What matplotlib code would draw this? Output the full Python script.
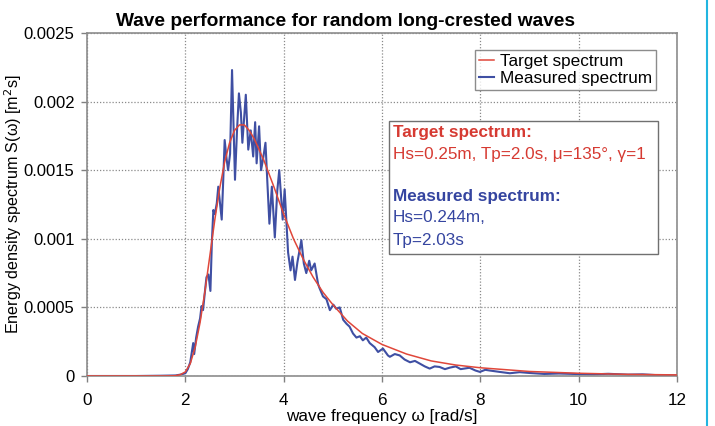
import numpy as np
import matplotlib.pyplot as plt
from matplotlib.lines import Line2D

plt.rcParams['font.family'] = ['Liberation Sans', 'DejaVu Sans']

# target spectrum (smooth), omega in rad/s, S in m^2 s
w_target = [0, 1.0, 1.6, 1.8, 1.9, 2.0, 2.1, 2.2, 2.3, 2.4, 2.5, 2.6, 2.7, 2.8,
            2.9, 3.0, 3.1, 3.2, 3.3, 3.4, 3.5, 3.6, 3.8, 4.0, 4.2, 4.4, 4.6,
            4.8, 5.0, 5.3, 5.6, 6.0, 6.5, 7.0, 7.5, 8.0, 9.0, 10.0, 11.0, 12.0]
s_target = [0, 0, 0, 0.000002, 0.00001, 0.00003, 0.00009, 0.00021, 0.00039,
            0.00062, 0.00088, 0.00114, 0.00137, 0.00156, 0.0017, 0.00179,
            0.00183, 0.00183, 0.00179, 0.00173, 0.00165, 0.00157, 0.00138,
            0.00118, 0.001, 0.00085, 0.00072, 0.00061, 0.00052, 0.0004,
            0.00031, 0.00023, 0.00016, 0.00011, 0.00008, 0.00006, 0.000033,
            0.00002, 0.000012, 0.000008]

# measured spectrum (noisy)
w_meas = [0, 1.0, 1.5, 1.8, 1.9, 2.0, 2.05, 2.1, 2.16, 2.18, 2.22, 2.26, 2.3,
          2.33, 2.36, 2.4, 2.43, 2.47, 2.51, 2.54, 2.57, 2.6, 2.64, 2.67,
          2.74, 2.77, 2.8, 2.84, 2.87, 2.91, 2.95, 3.01, 3.05, 3.09, 3.13,
          3.16, 3.2, 3.23, 3.28, 3.33, 3.38, 3.42, 3.45, 3.5, 3.54, 3.58,
          3.63, 3.67, 3.71, 3.76, 3.82, 3.87, 3.91, 3.98, 4.02, 4.09, 4.14,
          4.18, 4.23, 4.28, 4.36, 4.41, 4.46, 4.52, 4.56, 4.63, 4.7, 4.73,
          4.8, 4.87, 4.94, 5.01, 5.07, 5.14, 5.21, 5.28, 5.34, 5.41, 5.48,
          5.55, 5.61, 5.68, 5.75, 5.85, 5.92, 6.02, 6.12, 6.16, 6.26, 6.36,
          6.46, 6.57, 6.67, 6.77, 6.87, 6.97, 7.07, 7.17, 7.28, 7.38, 7.5,
          7.6, 7.78, 7.9, 7.99, 8.1, 8.19, 8.39, 8.6, 8.8, 9.0, 9.3, 9.6,
          10.0, 10.3, 10.6, 11.0, 11.3, 11.6, 12.0]
s_meas = [0, 0, 0.000002, 0.000004, 0.00001, 0.00002, 0.00005, 0.0001,
          0.00024, 0.00016, 0.00028, 0.00036, 0.00042, 0.00051, 0.00048,
          0.00062, 0.00072, 0.00074, 0.00062, 0.00098, 0.00121, 0.00118,
          0.00126, 0.00138, 0.00114, 0.00142, 0.00172, 0.00158, 0.0015,
          0.00162, 0.00223, 0.00143, 0.00178, 0.00206, 0.00192, 0.0017,
          0.0019, 0.00205, 0.00165, 0.00179, 0.0016, 0.00185, 0.00155,
          0.00182, 0.0015, 0.00158, 0.0017, 0.0014, 0.00111, 0.00138,
          0.00101, 0.00135, 0.0015, 0.00114, 0.00136, 0.0009, 0.00077,
          0.00087, 0.0007, 0.00083, 0.00099, 0.00082, 0.00075, 0.00084,
          0.00077, 0.00082, 0.00067, 0.00064, 0.00058, 0.00056, 0.00048,
          0.00052, 0.00049, 0.0005, 0.00041, 0.00038, 0.00036, 0.00031,
          0.00028, 0.00029, 0.00026, 0.00028, 0.00024, 0.00021, 0.000175,
          0.0002, 0.00015, 0.00014, 0.00016, 0.00015, 0.00012, 0.0001,
          0.00011, 0.00009, 0.00007, 0.000054, 0.00007, 0.000066, 0.00005,
          0.000061, 0.00007, 0.00005, 0.00006, 0.00004, 0.00003, 0.000045,
          0.00004, 0.00003, 0.00002, 0.000028, 0.000022, 0.000015, 0.000018,
          0.000014, 0.000012, 0.000016, 0.00001, 0.000012, 0.000006, 0.000004]

x_ticks = [0, 2, 4, 6, 8, 10, 12]
y_ticks = [0, 0.0005, 0.001, 0.0015, 0.002, 0.0025]
y_tick_labels = ['0', '0.0005', '0.001', '0.0015', '0.002', '0.0025']

red = '#e0473a'
blue = '#3f4fa3'
fs = 12.3

fig = plt.figure(figsize=(7.15, 4.26), dpi=100)
ax = fig.add_axes([87 / 715, 1 - 376 / 426, 590 / 715, 343 / 426])

ax.plot(w_target, s_target, color=red, lw=1.1, label='Target spectrum', zorder=3)
ax.plot(w_meas, s_meas, color=blue, lw=1.5, label='Measured spectrum', zorder=2)

ax.set_xlim(0, 12)
ax.set_ylim(0, 0.0025)
ax.set_xticks(x_ticks)
ax.set_yticks(y_ticks)
ax.set_yticklabels(y_tick_labels)
ax.tick_params(labelsize=fs, colors='#808080', labelcolor='black',
               length=4, width=1, direction='out')
ax.tick_params(axis='x', pad=8)
ax.tick_params(axis='y', pad=5, labelsize=12)
ax.grid(True, color='#8a8a8a', linestyle=(0, (1, 1.5)), linewidth=0.9)
for sp in ax.spines.values():
    sp.set_color('#8c8c8c')
    sp.set_linewidth(1.2)

ax.set_xlabel('wave frequency ω [rad/s]', fontsize=fs, labelpad=1)
ax.set_ylabel('Energy density spectrum S(ω) [m$^2$s]', fontsize=11.6)
ax.yaxis.set_label_coords(-0.107, 0.5)
fig.text(346 / 715, 1 - 21 / 426, 'Wave performance for random long-crested waves',
         ha='center', va='center', fontsize=13.8, fontweight='bold')

leg = ax.legend(loc='upper right', bbox_to_anchor=(0.964, 0.95), fontsize=fs,
                frameon=True, fancybox=False, edgecolor='#707070',
                handlelength=0.9, handletextpad=0.35, borderpad=0.2,
                labelspacing=0.15, borderaxespad=0)
leg.get_frame().set_linewidth(1.0)

# parameter box
box = plt.Rectangle((389 / 715, 1 - 254 / 426), 269 / 715, 133 / 426,
                    transform=fig.transFigure, facecolor='white',
                    edgecolor='#707070', lw=1.0, zorder=5)
fig.add_artist(box)
tx = 393 / 715
fig.text(tx, 1 - 133 / 426, 'Target spectrum:', color='#d63a32',
         fontsize=fs, fontweight='bold', va='center', zorder=6)
fig.text(tx, 1 - 155 / 426, 'Hs=0.25m, Tp=2.0s, μ=135°, γ=1', color='#d63a32',
         fontsize=fs, va='center', zorder=6)
fig.text(tx, 1 - 196 / 426, 'Measured spectrum:', color='#3545a0',
         fontsize=fs, fontweight='bold', va='center', zorder=6)
fig.text(tx, 1 - 218 / 426, 'Hs=0.244m,', color='#3545a0',
         fontsize=fs, va='center', zorder=6)
fig.text(tx, 1 - 241 / 426, 'Tp=2.03s', color='#3545a0',
         fontsize=fs, va='center', zorder=6)

# cyan edge line on the right
fig.add_artist(Line2D([707 / 715, 707 / 715], [0, 1], transform=fig.transFigure,
                      color='#22b5e0', lw=1.5))

fig.savefig('out.png', dpi=100)
